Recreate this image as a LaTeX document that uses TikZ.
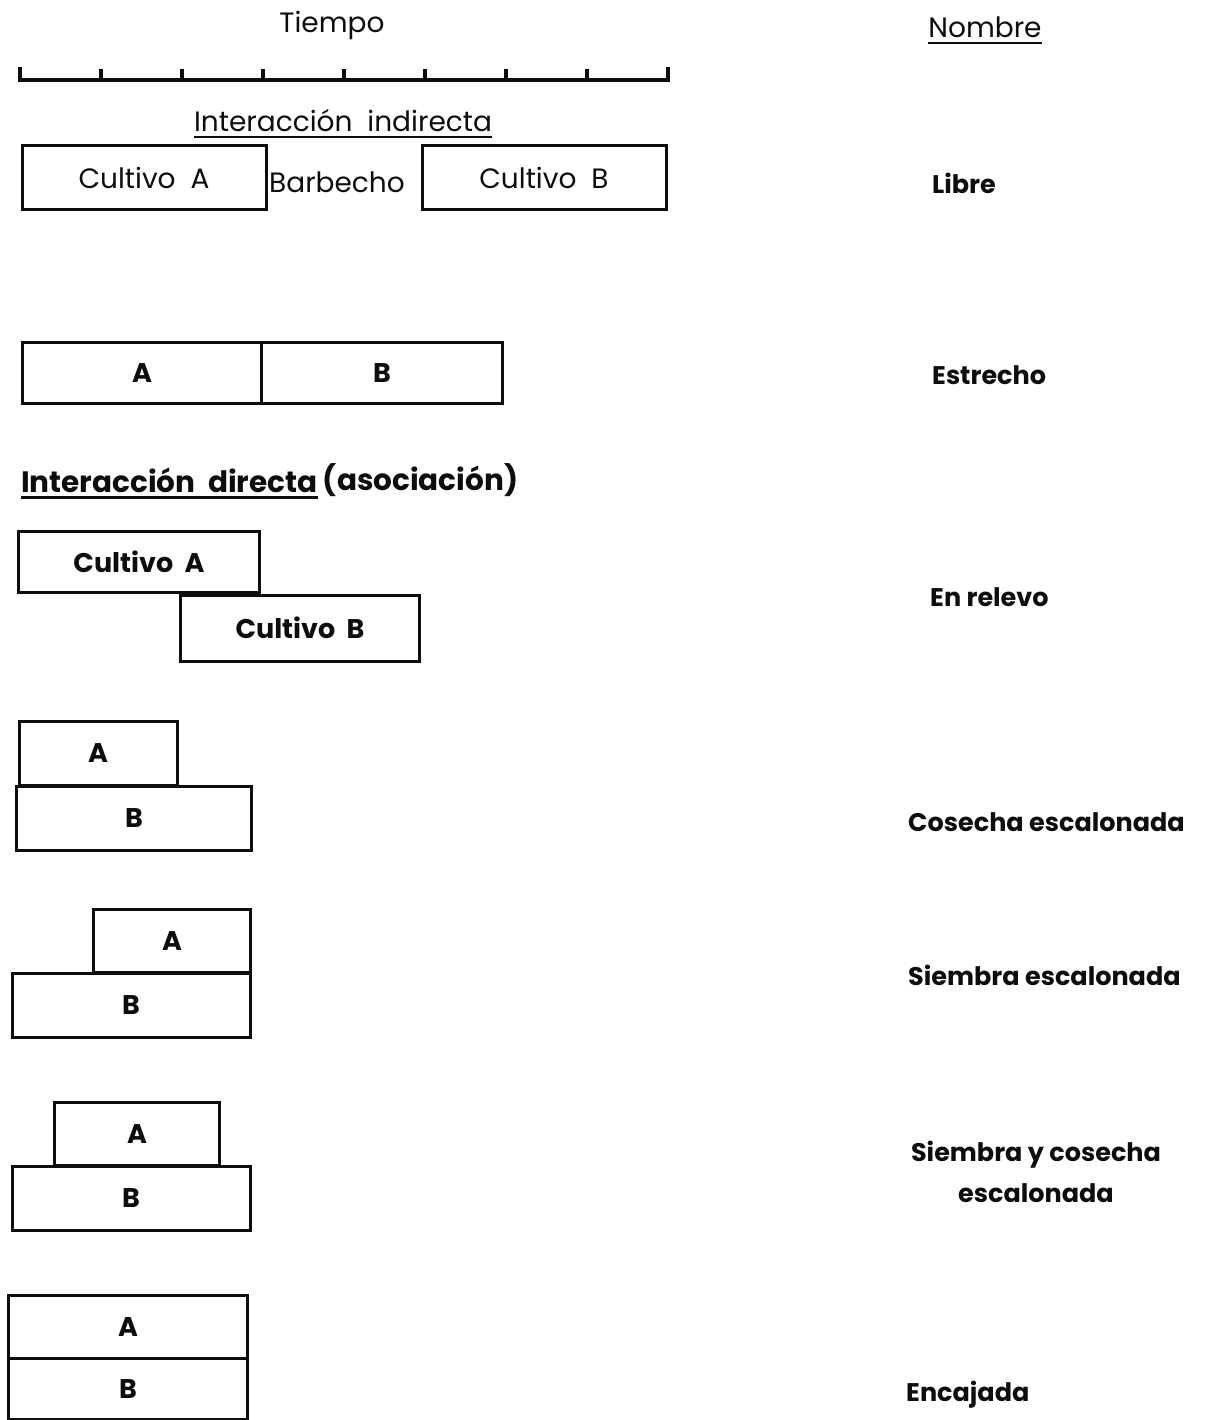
\documentclass[tikz,border=0pt]{standalone}
\usepackage{fontspec}
\setmainfont{Poppins}
\usepackage{tikz}
\usetikzlibrary{positioning, calc}
\definecolor{inkblack}{rgb}{0.05, 0.05, 0.05}

\begin{document}
\begin{tikzpicture}[x=1pt, y=-1pt, inkblack,
    cropbox/.style={draw, line width=3pt, inner sep=0pt, font=\fontsize{27}{32}\selectfont\bfseries},
    namelbl/.style={anchor=west, inner sep=0pt, font=\fontsize{25.5}{30}\selectfont\bfseries},
    headlbl/.style={inner sep=0pt, font=\fontsize{28}{32}\selectfont}]
    \useasboundingbox (0,0) rectangle (1227,1420);
    % time axis
    \node[headlbl] (tiempo) at (332,25) {Tiempo};
    \draw[line width=3.5pt] (20,67) -- (20,80) -- (668,80) -- (668,67);
    \foreach \t in {1,...,7}
      \draw[line width=3.5pt] ({20+81*\t},80) -- ({20+81*\t},69);
    \node[headlbl] (nombre) at (985,27) {Nombre};
    \draw[line width=2pt] ([yshift=-5pt]nombre.south west) -- ([yshift=-5pt]nombre.south east);
    % indirect
    \node[headlbl] (indir) at (343,121) {Interacción\ \ indirecta};
    \draw[line width=2pt] ([yshift=-5pt]indir.south west) -- ([yshift=-5pt]indir.south east);
    \node[cropbox, minimum width=244pt, minimum height=64pt, font=\fontsize{28}{32}\selectfont] (libA) at (144,178) {Cultivo\ \ A};
    \node[headlbl] (barb) at (337,182) {Barbecho};
    \node[cropbox, minimum width=244pt, minimum height=64pt, font=\fontsize{28}{32}\selectfont] (libB) at (544,178) {Cultivo\ \ B};
    \node[namelbl] (libre) at (932,183) {Libre};

    \node[cropbox, minimum width=239pt, minimum height=61pt] (estA) at (142,373) {A};
    \node[cropbox, minimum width=241pt, minimum height=61pt] (estB) at (382,373) {B};
    \node[namelbl] (estrecho) at (932,375) {Estrecho};
    % direct
    \node[headlbl, anchor=west, font=\fontsize{29.5}{34}\selectfont\bfseries] (dir) at (21,480) {Interacción\ \ directa};
    \draw[line width=2.5pt] ([yshift=-5pt]dir.south west) -- ([yshift=-5pt]dir.south east);
    \node[headlbl, anchor=west, font=\fontsize{29.5}{34}\selectfont\bfseries] (asoc) at ([xshift=5pt]dir.east) {(asociación)};

    \node[cropbox, minimum width=241pt, minimum height=61pt] (relA) at (139,562) {Cultivo\ \ A};
    \node[cropbox, minimum width=239pt, minimum height=66pt] (relB) at (300,628) {Cultivo\ \ B};
    \node[namelbl] (relevo) at (930,597) {En relevo};

    \node[cropbox, minimum width=158pt, minimum height=64pt] (cosA) at (98,753) {A};
    \node[cropbox, minimum width=235pt, minimum height=64pt] (cosB) at (134,818) {B};
    \node[namelbl] (cosecha) at (908,822) {Cosecha escalonada};

    \node[cropbox, minimum width=157pt, minimum height=63pt] (sieA) at (172,941) {A};
    \node[cropbox, minimum width=238pt, minimum height=64pt] (sieB) at (131,1005) {B};
    \node[namelbl] (siembra) at (908,975) {Siembra escalonada};

    \node[cropbox, minimum width=165pt, minimum height=63pt] (scA) at (137,1134) {A};
    \node[cropbox, minimum width=238pt, minimum height=64pt] (scB) at (131,1198) {B};
    \node[inner sep=0pt, align=center, font=\fontsize{25.5}{41}\selectfont\bfseries] (sieco) at (1036,1172) {Siembra y cosecha\\escalonada};

    \node[cropbox, minimum width=239pt, minimum height=63pt] (encA) at (128,1327) {A};
    \node[cropbox, minimum width=239pt, minimum height=61pt] (encB) at (128,1389) {B};
    \node[namelbl] (encajada) at (906,1395) {Encajada};
\end{tikzpicture}
\end{document}
